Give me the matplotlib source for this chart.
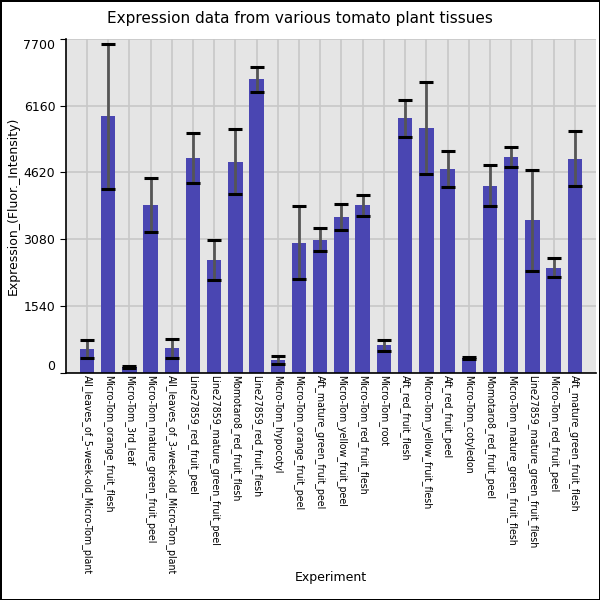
import matplotlib
matplotlib.use("Agg")
import matplotlib.pyplot as plt
import numpy as np

categories = [
    "All_leaves_of_5-week-old_Micro-Tom_plant",
    "Micro-Tom_orange_fruit_flesh",
    "Micro-Tom_3rd_leaf",
    "Micro-Tom_mature_green_fruit_peel",
    "All_leaves_of_3-week-old_Micro-Tom_plant",
    "Line27859_red_fruit_peel",
    "Line27859_mature_green_fruit_peel",
    "Momotaro8_red_fruit_flesh",
    "Line27859_red_fruit_flesh",
    "Micro-Tom_hypocotyl",
    "Micro-Tom_orange_fruit_peel",
    "Aft_mature_green_fruit_peel",
    "Micro-Tom_yellow_fruit_peel",
    "Micro-Tom_red_fruit_flesh",
    "Micro-Tom_root",
    "Aft_red_fruit_flesh",
    "Micro-Tom_yellow_fruit_flesh",
    "Aft_red_fruit_peel",
    "Micro-Tom_cotyledon",
    "Momotaro8_red_fruit_peel",
    "Micro-Tom_mature_green_fruit_flesh",
    "Line27859_mature_green_fruit_flesh",
    "Micro-Tom_red_fruit_peel",
    "Aft_mature_green_fruit_flesh",
]
values = [540, 5910, 140, 3870, 560, 4950, 2600, 4860, 6770, 290, 3000, 3065,
          3590, 3865, 630, 5865, 5640, 4700, 337, 4315, 4975, 3510, 2420, 4930]
errors = [210, 1675, 25, 615, 220, 580, 460, 750, 288, 92, 838, 260,
          310, 241, 134, 422, 1057, 414, 25, 475, 222, 1172, 218, 632]
yticks = [0, 1540, 3080, 4620, 6160, 7700]

fig = plt.figure(figsize=(6, 6), dpi=100)
fig.patch.set_edgecolor("black")
fig.patch.set_linewidth(2)
ax = fig.add_axes([0.1095, 0.3788, 0.8838, 0.5567])
ax.set_facecolor("#e5e5e5")
x = np.arange(len(categories))
ax.bar(x, values, width=0.68, color="#4a46b2", zorder=2)
ax.errorbar(x, values, yerr=errors, fmt="none", ecolor="#555555", elinewidth=2,
            capsize=0, zorder=3)
# caps
ax.errorbar(x, values, yerr=errors, fmt="none", ecolor="black", elinewidth=0,
            capsize=5.2, capthick=2.2, zorder=4)
ax.set_xlim(-1, len(categories))
ax.set_ylim(0, 7700)
ax.set_yticks(yticks)
ax.set_yticklabels([str(t) for t in yticks], fontsize=9)
ax.set_xticks(x)
ax.set_xticklabels(categories, rotation=-90, fontsize=6.85, va="top", ha="center")
ax.grid(True, color="#c8c8c8", linewidth=1.2, zorder=0)
ax.set_axisbelow(True)
for s in ["top", "right"]:
    ax.spines[s].set_visible(False)
for s in ["left", "bottom"]:
    ax.spines[s].set_color("black")
    ax.spines[s].set_linewidth(1.2)
ax.tick_params(axis="y", length=4, color="black")
ax.tick_params(axis="x", length=0, pad=2)
labs = ax.get_yticklabels()
labs[0].set_va("bottom")
labs[-1].set_va("top")
fig.suptitle("Expression data from various tomato plant tissues", fontsize=11, x=0.5, y=0.982)
ax.set_xlabel("Experiment", fontsize=9)
ax.set_ylabel("Expression_(Fluor._Intensity)", fontsize=9)
ax.xaxis.set_label_coords(0.5, -0.595)
ax.yaxis.set_label_coords(-0.087, 0.5)
fig.savefig("out.png", dpi=100, edgecolor="black")
